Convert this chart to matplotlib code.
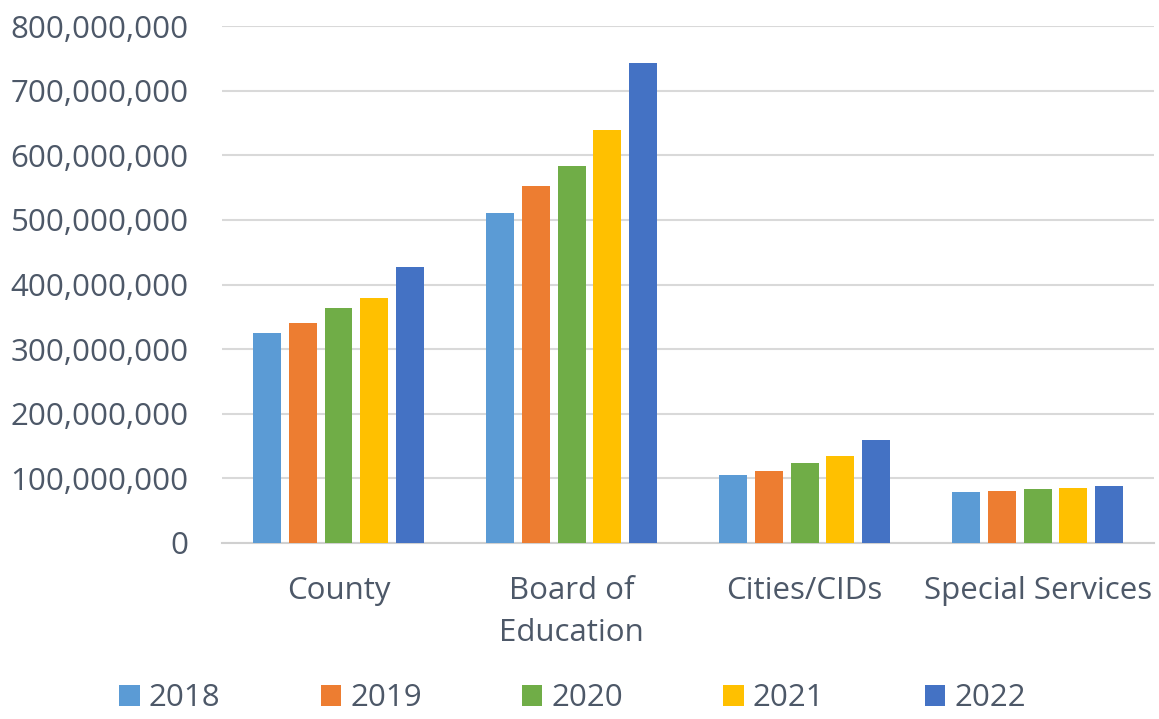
import matplotlib.pyplot as plt
import numpy as np
from matplotlib.ticker import FuncFormatter

categories = ['County', 'Board of\nEducation', 'Cities/CIDs', 'Special Services']
years = ['2018', '2019', '2020', '2021', '2022']
v2018 = [325e6, 510e6, 105e6, 79e6]
v2019 = [340e6, 553e6, 112e6, 81e6]
v2020 = [363e6, 584e6, 124e6, 83e6]
v2021 = [379e6, 639e6, 134e6, 85e6]
v2022 = [427e6, 743e6, 159e6, 88e6]
colors = ['#5B9BD5', '#ED7D31', '#70AD47', '#FFC000', '#4472C4']

TEXT = '#4d5868'
plt.rcParams['font.family'] = ['Open Sans', 'DejaVu Sans']

fig = plt.figure(figsize=(11.59, 7.19), dpi=100, facecolor='white')
ax = fig.add_axes([0.1915, 0.2448, 0.8045, 0.719])

x = np.arange(len(categories))
width = 0.12
step = 0.153
for i, (yr, vals) in enumerate(zip(years, [v2018, v2019, v2020, v2021, v2022])):
    ax.bar(x + (i - 2) * step, vals, width, color=colors[i], label=yr, zorder=3)

ax.set_xlim(-0.5, len(categories) - 0.5)
ax.set_ylim(0, 800e6)
ax.set_yticks(np.arange(0, 800e6 + 1, 100e6))
ax.yaxis.set_major_formatter(FuncFormatter(lambda v, p: f'{int(v):,}'))
ax.set_xticks(x)
ax.set_xticklabels(categories, linespacing=1.5)

ax.grid(axis='y', color='#d9d9d9', linewidth=1.5, zorder=0)
for s in ['top', 'right', 'left']:
    ax.spines[s].set_visible(False)
ax.spines['bottom'].set_color('#d0d0d0')
ax.spines['bottom'].set_linewidth(1.5)
ax.tick_params(axis='both', length=0, labelsize=22.5, colors=TEXT)
ax.tick_params(axis='y', pad=24)
ax.tick_params(axis='x', pad=24)

fig.legend(loc='center', bbox_to_anchor=(0.494, 0.029), ncol=5, frameon=False,
           fontsize=22.5, labelcolor=TEXT, handlelength=0.65, handleheight=0.65,
           handletextpad=0.3, columnspacing=3.2)

fig.savefig('out.png', dpi=100, facecolor='white')
